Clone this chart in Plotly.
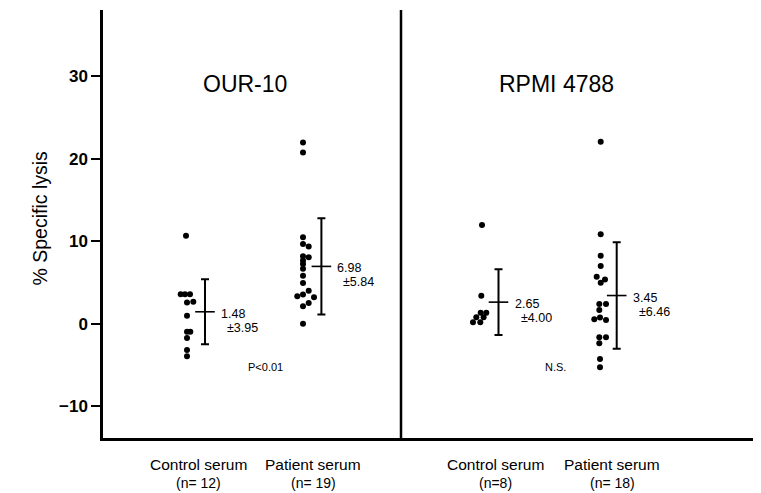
import plotly.graph_objects as go

# ---------------- data ----------------
group_names = ["Control serum", "Patient serum", "Control serum", "Patient serum"]
group_n = ["(n= 12)", "(n= 19)", "(n=8)", "(n= 18)"]
panel_titles = ["OUR-10", "RPMI 4788"]
p_labels = ["P<0.01", "N.S."]

ctrl_our10 = [10.7, 3.6, 3.6, 3.6, 2.6, 2.7, 1.0, -0.93, -0.93, -1.7, -3.15, -3.9]
ctrl_our10_jit = [-1, -6.3, -2, 3, 0, 6.3, 0, 0, 3.3, 0, 0, 0]

pat_our10 = [22.0, 20.8, 10.5, 9.7, 9.4, 8.2, 8.1, 7.7, 7.27, 6.7, 5.86, 4.97,
             4.04, 3.56, 3.35, 3.24, 2.55, 2.14, 0.04]
pat_our10_jit = [0, 0, 0, 0, 5.7, 0, 5.7, 0, 0, 0, 0, 0,
                 5.7, 0, -5.7, 11, 5.7, 0, 0]

ctrl_rpmi = [12.0, 3.43, 1.37, 1.37, 0.81, 0.81, 0.2, 0.2]
ctrl_rpmi_jit = [0, -0.7, -1.3, 4.3, -5.7, 1.6, -9.0, -1.7]

pat_rpmi = [22.1, 10.87, 8.28, 7.03, 5.73, 5.4, 5.0, 2.42, 2.42, 1.7,
            0.57, 0.8, 0.48, -1.6, -1.6, -2.34, -4.24, -5.25]
pat_rpmi_jit = [0.7, 0.7, 0.7, 0.7, -3.3, 5, 0.7, -0.7, 6, -0.7,
                -5.7, 0, 6, -0.7, 6, -0.7, 0, 0]

means = [1.48, 6.98, 2.65, 3.45]
sds = [3.95, 5.84, 4.00, 6.46]
mean_text = ["1.48", "6.98", "2.65", "3.45"]
sd_text = ["±3.95", "±5.84", "±4.00", "±6.46"]

y_ticks = [-10, 0, 10, 20, 30]
y_ticktext = ["\u221210", "0", "10", "20", "30"]

# ---------------- layout constants ----------------
FONT = "Liberation Sans, Arial, sans-serif"
PX = 0.01                              # x-axis units per pixel (1 unit = 100 px)
group_x = [0.84, 2.00, 3.79, 4.97]     # centre of each dot column
bar_dx = [0.18, 0.184, 0.165, 0.167]   # error bar offset to the right of dots
divider_x = 2.98
X_RANGE = [0, 6.57]
Y_RANGE = [-13.82, 38.06]

groups = [(ctrl_our10, ctrl_our10_jit), (pat_our10, pat_our10_jit),
          (ctrl_rpmi, ctrl_rpmi_jit), (pat_rpmi, pat_rpmi_jit)]

fig = go.Figure()

for gx, (vals, jit) in zip(group_x, groups):
    fig.add_trace(go.Scatter(
        x=[gx + j * PX for j in jit], y=vals, mode="markers",
        marker=dict(color="black", size=6, line=dict(width=0)),
        showlegend=False, hoverinfo="y"))

for gx, dx, m, s in zip(group_x, bar_dx, means, sds):
    fig.add_trace(go.Scatter(
        x=[gx + dx], y=[m], mode="markers",
        marker=dict(symbol="line-ew", size=14, color="black",
                    line=dict(width=1.6, color="black")),
        error_y=dict(type="data", array=[s], visible=True, thickness=2,
                     width=4, color="black"),
        showlegend=False, hoverinfo="y"))

annotations = []
# mean / sd labels
for gx, dx, m, mt, st in zip(group_x, bar_dx, means, mean_text, sd_text):
    annotations.append(dict(x=gx + dx, y=m, xref="x", yref="y", text=mt,
                            showarrow=False, xanchor="left", yanchor="middle",
                            xshift=14, yshift=-2,
                            font=dict(family=FONT, size=12.5, color="black")))
    annotations.append(dict(x=gx + dx, y=m, xref="x", yref="y", text=st,
                            showarrow=False, xanchor="left", yanchor="middle",
                            xshift=20, yshift=-16,
                            font=dict(family=FONT, size=12.5, color="black")))

# panel titles
for tx, t in zip([1.42, 4.53], panel_titles):
    annotations.append(dict(x=tx, y=29.1, xref="x", yref="y", text=t,
                            showarrow=False, xanchor="center", yanchor="middle",
                            font=dict(family=FONT, size=23, color="black")))

# significance labels
for tx, t in zip([1.62, 4.52], p_labels):
    annotations.append(dict(x=tx, y=-5.2, xref="x", yref="y", text=t,
                            showarrow=False, xanchor="center", yanchor="middle",
                            font=dict(family=FONT, size=11, color="black")))

# bottom category labels
label_x = [0.95, 2.10, 3.92, 5.09]
for lx, name, n in zip(label_x, group_names, group_n):
    annotations.append(dict(x=lx, y=-0.061, xref="x", yref="paper", text=name,
                            showarrow=False, xanchor="center", yanchor="middle",
                            font=dict(family=FONT, size=15.5, color="black")))
    annotations.append(dict(x=lx, y=-0.106, xref="x", yref="paper", text=n,
                            showarrow=False, xanchor="center", yanchor="middle",
                            font=dict(family=FONT, size=14, color="black")))

# y-axis title
annotations.append(dict(x=-0.096, y=0.515, xref="paper", yref="paper",
                        text="% Specific lysis", textangle=-90, showarrow=False,
                        xanchor="center", yanchor="middle",
                        font=dict(family=FONT, size=19.5, color="black")))

# The page body adds an 8 px margin, so the figure is drawn 8 px smaller
fig.update_layout(
    width=753, height=485,
    margin=dict(l=95, r=1, t=2, b=55),
    paper_bgcolor="white", plot_bgcolor="white",
    showlegend=False,
    annotations=annotations,
    shapes=[dict(type="line", xref="x", yref="paper", x0=divider_x, x1=divider_x,
                 y0=0, y1=1, line=dict(color="black", width=2.5))],
    xaxis=dict(range=X_RANGE, showticklabels=False, showgrid=False,
               zeroline=False, showline=True, linecolor="black", linewidth=2.5,
               ticks=""),
    yaxis=dict(range=Y_RANGE, tickvals=y_ticks, ticktext=y_ticktext,
               showgrid=False, zeroline=False, showline=True,
               linecolor="black", linewidth=2.5, ticks="outside", ticklen=9,
               tickwidth=1.5, tickcolor="black",
               tickfont=dict(family=FONT, size=17, color="black", weight="bold")),
)

fig.write_html("out.html")
